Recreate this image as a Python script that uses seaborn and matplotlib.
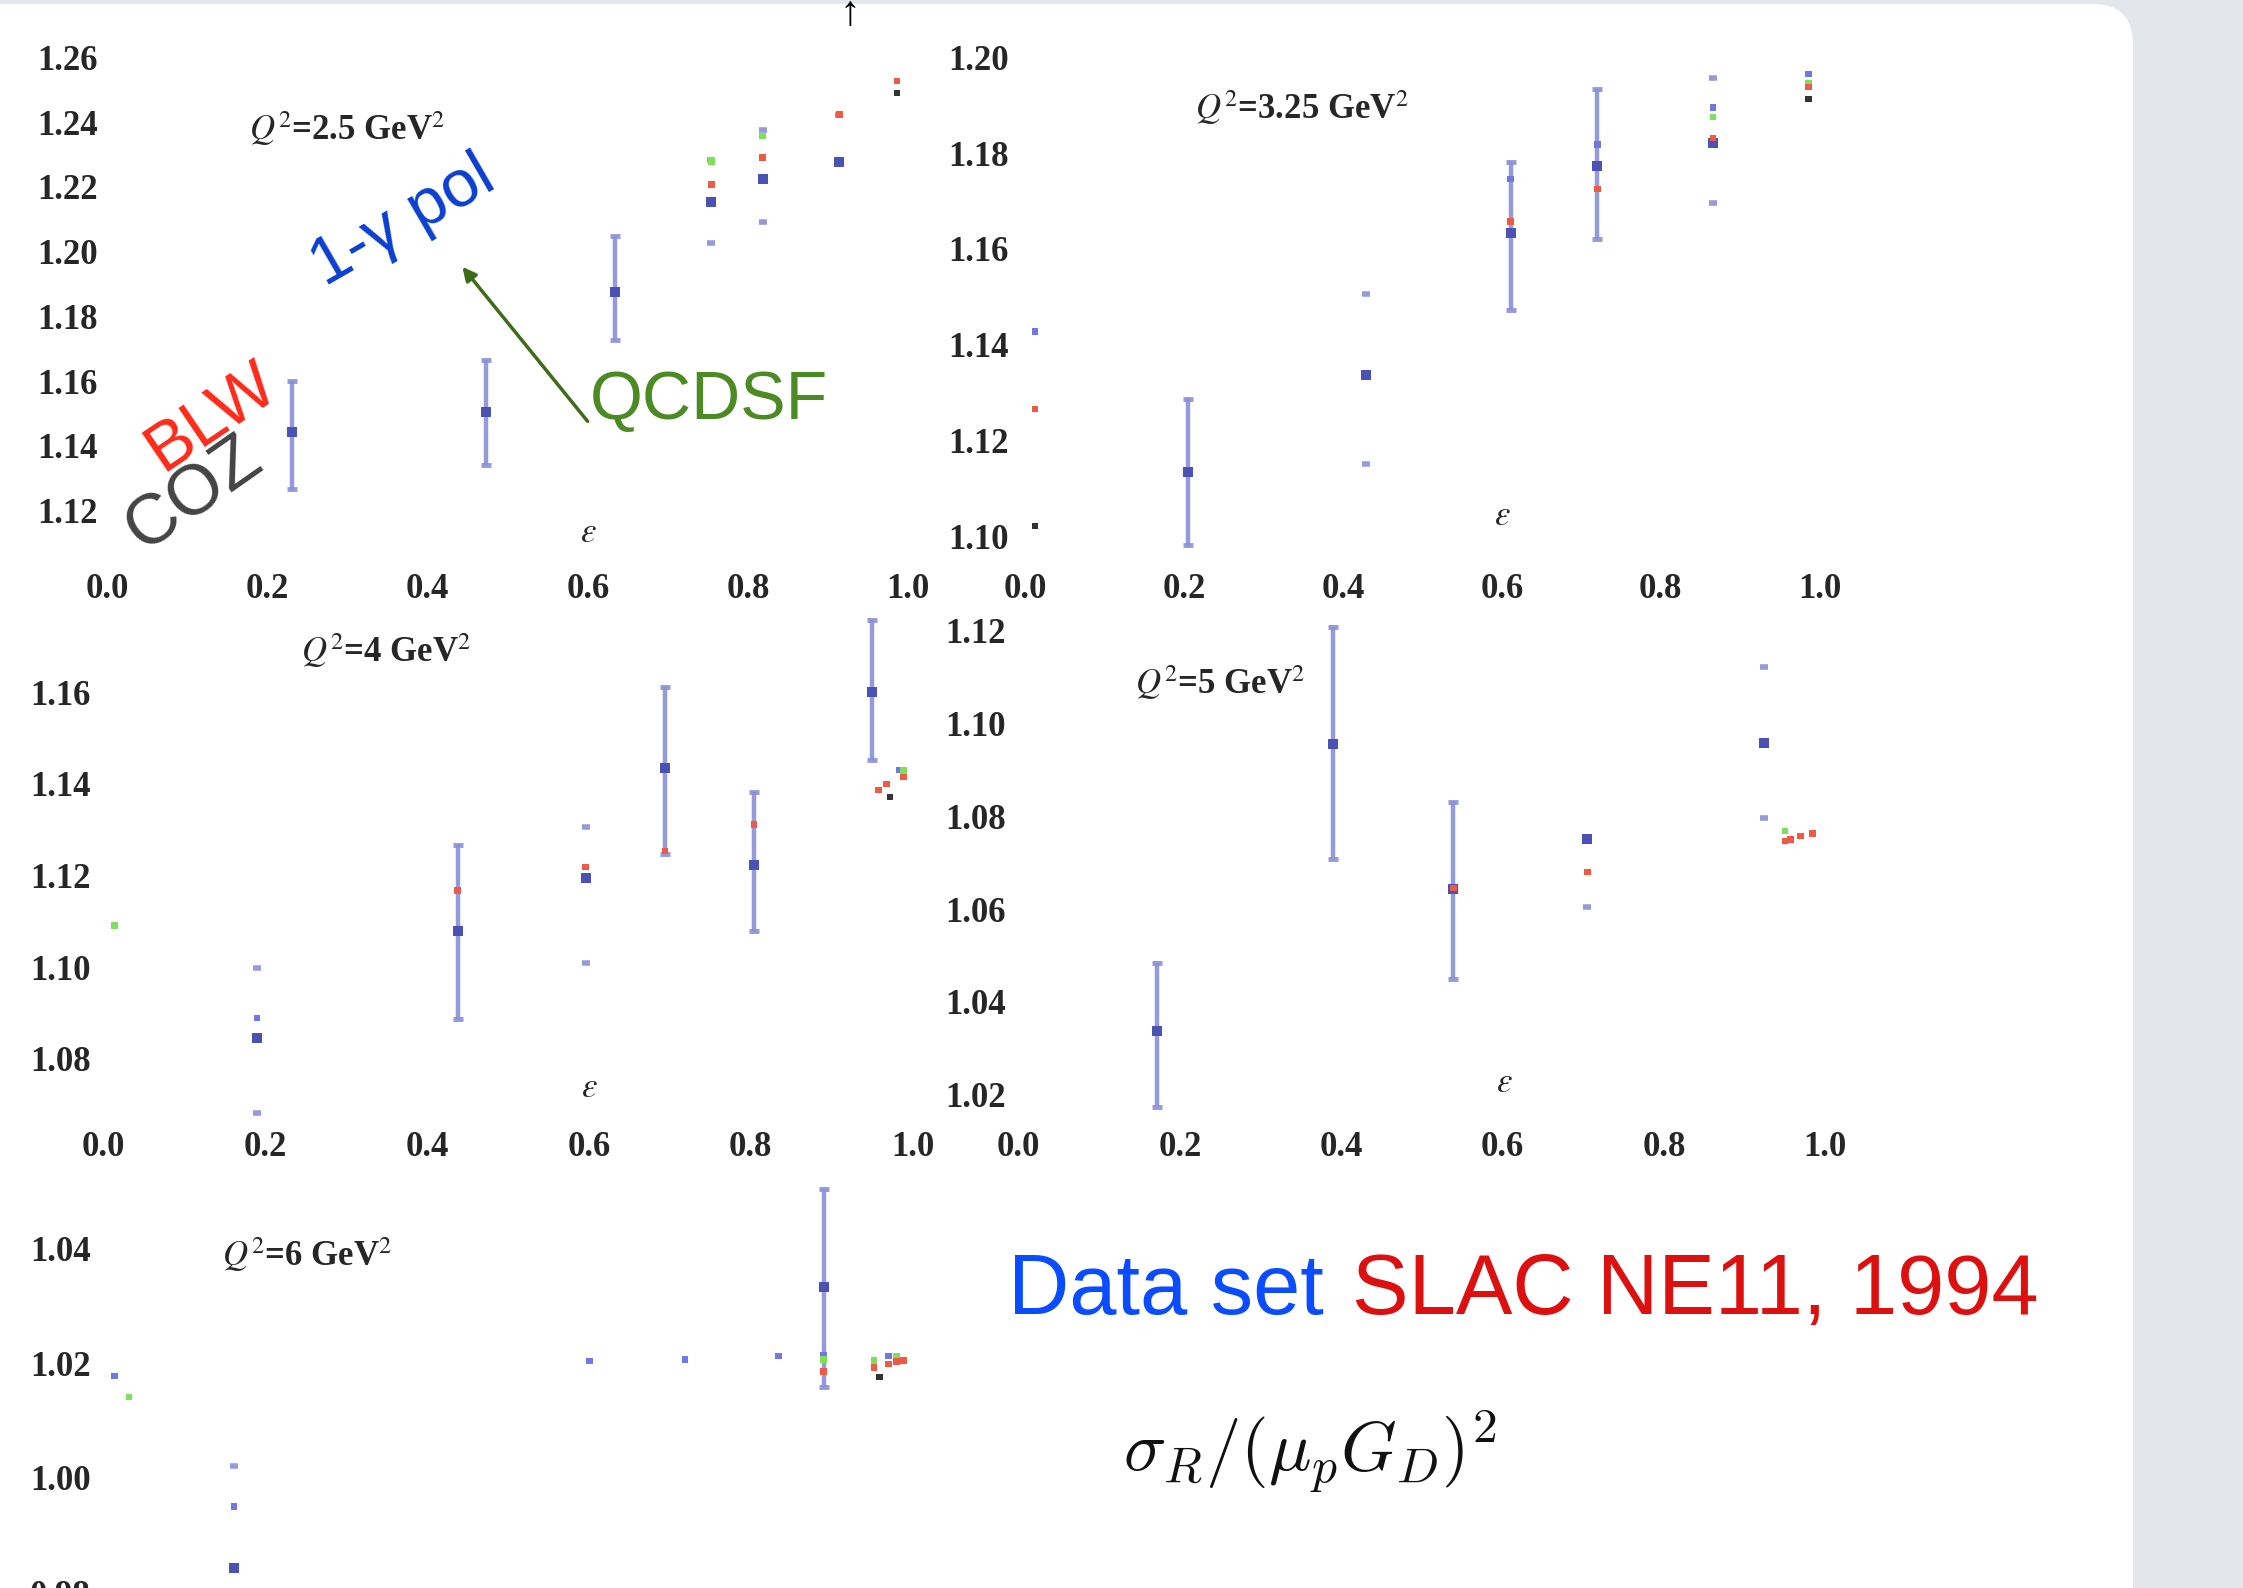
import numpy as np
import pandas as pd
import matplotlib
matplotlib.use("Agg")
import matplotlib.pyplot as plt
import seaborn as sns
from matplotlib.patches import FancyBboxPatch

# ------------------------------------------------------------------
# values: reduced cross section sigma_R/(mu_p G_D)^2 vs epsilon
# ------------------------------------------------------------------
eps_ticks = [0.0, 0.2, 0.4, 0.6, 0.8, 1.0]

# Q^2 = 2.5 GeV^2
q25_eps = [0.230, 0.473, 0.634]
q25_val = [1.1443, 1.1505, 1.1876]
q25_lo = [1.1267, 1.1341, 1.1726]
q25_hi = [1.1602, 1.1664, 1.2048]
q25_faint_eps = [0.754, 0.818, 0.914]
q25_faint_val = [1.2154, 1.2225, 1.2278]
q25_faint_lo = [1.2026, 1.2092, 1.2278]
q25_faint_hi = [1.2282, 1.2375, 1.2423]
q25_curve_eps = [0.754, 0.754, 0.818, 0.818, 0.914, 0.986, 0.986]
q25_curve_val = [1.2278, 1.2207, 1.2357, 1.2291, 1.2423, 1.2527, 1.2490]
q25_curve_kind = ["QCDSF", "BLW", "QCDSF", "BLW", "BLW", "BLW", "COZ"]
q25_yticks = [1.12, 1.14, 1.16, 1.18, 1.20, 1.22, 1.24, 1.26]

# Q^2 = 3.25 GeV^2
q325_eps = [0.205, 0.611, 0.720]
q325_val = [1.1134, 1.1633, 1.1773]
q325_lo = [1.0982, 1.1472, 1.1621]
q325_hi = [1.1287, 1.1782, 1.1934]
q325_faint_eps = [0.429, 0.866]
q325_faint_val = [1.1336, 1.1821]
q325_faint_lo = [1.1151, 1.1695]
q325_faint_hi = [1.1507, 1.1957]
q325_curve_eps = [0.012, 0.012, 0.012, 0.611, 0.611, 0.720, 0.720,
                  0.866, 0.866, 0.866, 0.986, 0.986, 0.986, 0.986]
q325_curve_val = [1.1428, 1.1266, 1.1022, 1.1657, 1.1746, 1.1725, 1.1818,
                  1.1895, 1.1875, 1.1831, 1.1965, 1.1945, 1.1938, 1.1913]
q325_curve_kind = ["pol", "BLW", "COZ", "BLW", "pol", "BLW", "pol",
                   "pol", "QCDSF", "BLW", "pol", "QCDSF", "BLW", "COZ"]
q325_yticks = [1.10, 1.12, 1.14, 1.16, 1.18, 1.20]

# Q^2 = 4 GeV^2
q4_eps = [0.438, 0.694, 0.804, 0.950]
q4_val = [1.1079, 1.1436, 1.1223, 1.1600]
q4_lo = [1.0886, 1.1248, 1.1079, 1.1452]
q4_hi = [1.1266, 1.1611, 1.1383, 1.1758]
q4_faint_eps = [0.190, 0.596]
q4_faint_val = [1.0845, 1.1194]
q4_faint_lo = [1.0681, 1.1009]
q4_faint_hi = [1.0997, 1.1306]
q4_curve_eps = [0.014, 0.190, 0.438, 0.596, 0.694, 0.804,
                0.958, 0.968, 0.989, 0.983, 0.989, 0.972]
q4_curve_val = [1.1091, 1.0889, 1.1167, 1.1219, 1.1254, 1.1312,
                1.1387, 1.1400, 1.1415, 1.1431, 1.1430, 1.1372]
q4_curve_kind = ["QCDSF", "pol", "BLW", "BLW", "BLW", "BLW",
                 "BLW", "BLW", "BLW", "pol", "QCDSF", "COZ"]
q4_yticks = [1.08, 1.10, 1.12, 1.14, 1.16]

# Q^2 = 5 GeV^2
q5_eps = [0.172, 0.390, 0.539]
q5_val = [1.0336, 1.0956, 1.0643]
q5_lo = [1.0172, 1.0708, 1.0450]
q5_hi = [1.0484, 1.1209, 1.0830]
q5_faint_eps = [0.705, 0.924]
q5_faint_val = [1.0751, 1.0959]
q5_faint_lo = [1.0605, 1.0797]
q5_faint_hi = [1.0751, 1.1123]
q5_curve_eps = [0.539, 0.705, 0.950, 0.950, 0.957, 0.969, 0.984]
q5_curve_val = [1.0645, 1.0680, 1.0768, 1.0747, 1.0750, 1.0758, 1.0763]
q5_curve_kind = ["BLW", "BLW", "QCDSF", "BLW", "BLW", "BLW", "BLW"]
q5_yticks = [1.02, 1.04, 1.06, 1.08, 1.10, 1.12]

# Q^2 = 6 GeV^2
q6_eps = [0.890]
q6_val = [1.0333]
q6_lo = [1.0159]
q6_hi = [1.0505]
q6_faint_eps = [0.162]
q6_faint_val = [0.9843]
q6_faint_lo = [0.9843]
q6_faint_hi = [1.0020]
q6_curve_eps = [0.014, 0.032, 0.162, 0.601, 0.719, 0.834, 0.890, 0.890, 0.890,
                0.952, 0.952, 0.970, 0.970, 0.980, 0.980, 0.989, 0.959]
q6_curve_val = [1.0178, 1.0141, 0.9950, 1.0204, 1.0207, 1.0213, 1.0215, 1.0207, 1.0186,
                1.0205, 1.0193, 1.0213, 1.0199, 1.0212, 1.0203, 1.0205, 1.0176]
q6_curve_kind = ["pol", "QCDSF", "pol", "pol", "pol", "pol", "pol", "QCDSF", "BLW",
                 "QCDSF", "BLW", "pol", "BLW", "QCDSF", "BLW", "BLW", "COZ"]
q6_yticks = [0.98, 1.00, 1.02, 1.04]

model_colors = {"pol": "#6f78e4", "BLW": "#ee5a45", "QCDSF": "#7ee05a", "COZ": "#333333"}
bar_color = "#8a90d6"
center_color = "#4a52b4"

# ------------------------------------------------------------------
# layout, measured on a 1568 x 1110 view of the slide
# ------------------------------------------------------------------
W, H = 1568.0, 1110.0

panels = [
    dict(name=r"$Q^2$=2.5 GeV$^2$", title_xy=(243, 90), eps_xy=(411, 372),
         x0=75, x1=635, ya=(40, 1.26), yb=(357, 1.12), rect=(75, 640, 30, 392), ypad=7,
         data=(q25_eps, q25_val, q25_lo, q25_hi),
         faint=(q25_faint_eps, q25_faint_val, q25_faint_lo, q25_faint_hi),
         curve=(q25_curve_eps, q25_curve_val, q25_curve_kind), yticks=q25_yticks, xlabels=True),
    dict(name=r"$Q^2$=3.25 GeV$^2$", title_xy=(910, 75), eps_xy=(1050, 360),
         x0=717, x1=1272, ya=(40, 1.20), yb=(375, 1.10), rect=(717, 1285, 30, 392), ypad=12,
         data=(q325_eps, q325_val, q325_lo, q325_hi),
         faint=(q325_faint_eps, q325_faint_val, q325_faint_lo, q325_faint_hi),
         curve=(q325_curve_eps, q325_curve_val, q325_curve_kind), yticks=q325_yticks, xlabels=True),
    dict(name=r"$Q^2$=4 GeV$^2$", title_xy=(270, 455), eps_xy=(412, 760),
         x0=72, x1=638, ya=(484, 1.16), yb=(740, 1.08), rect=(72, 645, 428, 782), ypad=9,
         data=(q4_eps, q4_val, q4_lo, q4_hi),
         faint=(q4_faint_eps, q4_faint_val, q4_faint_lo, q4_faint_hi),
         curve=(q4_curve_eps, q4_curve_val, q4_curve_kind), yticks=q4_yticks, xlabels=True),
    dict(name=r"$Q^2$=5 GeV$^2$", title_xy=(853, 477), eps_xy=(1052, 757),
         x0=712, x1=1276, ya=(441, 1.12), yb=(765, 1.02), rect=(712, 1285, 428, 782), ypad=9,
         data=(q5_eps, q5_val, q5_lo, q5_hi),
         faint=(q5_faint_eps, q5_faint_val, q5_faint_lo, q5_faint_hi),
         curve=(q5_curve_eps, q5_curve_val, q5_curve_kind), yticks=q5_yticks, xlabels=True),
    dict(name=r"$Q^2$=6 GeV$^2$", title_xy=(215, 877), eps_xy=None,
         x0=72, x1=638, ya=(873, 1.04), yb=(1033, 1.00), rect=(72, 645, 820, 1180), ypad=9,
         data=(q6_eps, q6_val, q6_lo, q6_hi),
         faint=(q6_faint_eps, q6_faint_val, q6_faint_lo, q6_faint_hi),
         curve=(q6_curve_eps, q6_curve_val, q6_curve_kind), yticks=q6_yticks, xlabels=False),
]

sns.set_theme(style="white")
plt.rcParams["font.family"] = ["Liberation Sans", "DejaVu Sans"]

fig = plt.figure(figsize=(22.43, 15.88), dpi=100)
fig.patch.set_facecolor("#e3e6ea")

# white slide area with a rounded top-right corner
slide = FancyBboxPatch((-1.0, -1.0), 22.33, 16.84, boxstyle="round,pad=0,rounding_size=0.4",
                       transform=fig.dpi_scale_trans, facecolor="white", edgecolor="none", zorder=0)
fig.add_artist(slide)


def fx(d):
    return d / W


def fy(d):
    return 1 - d / H


tick_font = dict(family="Liberation Serif", weight="bold", size=25)

for p in panels:
    l, r, t, b = p["rect"]
    (ya, va), (yb, vb) = p["ya"], p["yb"]
    xs = 1.0 / (p["x1"] - p["x0"])
    ys = (va - vb) / (yb - ya)
    ax = fig.add_axes([l / W, 1 - b / H, (r - l) / W, (b - t) / H])
    ax.set_facecolor("none")
    ax.set_xlim((l - p["x0"]) * xs, (r - p["x0"]) * xs)
    ax.set_ylim(va - (b - ya) * ys, va - (t - ya) * ys)

    # measured points with visible error bars
    e, v, lo, hi = [np.array(a) for a in p["data"]]
    ax.errorbar(e, v, yerr=[v - lo, hi - v], fmt="none", ecolor=bar_color, elinewidth=3.2,
                capsize=3.5, capthick=3.5, alpha=0.9, clip_on=False)
    # points where only caps survived in the scan
    fe, fv, flo, fhi = [np.array(a) for a in p["faint"]]
    ax.errorbar(fe, fv, yerr=[fv - flo, fhi - fv], fmt="none", ecolor=bar_color, elinewidth=0,
                capsize=3.0, capthick=4.0, alpha=0.9, clip_on=False)

    centers = pd.DataFrame({"eps": np.concatenate([e, fe]), "val": np.concatenate([v, fv])})
    sns.scatterplot(data=centers, x="eps", y="val", color=center_color, marker="s", s=55,
                    linewidth=0, ax=ax, clip_on=False, zorder=4)

    ce, cv, ck = p["curve"]
    curves = pd.DataFrame({"eps": ce, "val": cv, "model": ck})
    sns.scatterplot(data=curves, x="eps", y="val", hue="model", palette=model_colors,
                    marker="s", s=22, linewidth=0, legend=False, ax=ax, clip_on=False, zorder=5)

    ax.set_xlabel("")
    ax.set_ylabel("")
    for s in ax.spines.values():
        s.set_visible(False)
    if p["xlabels"]:
        ax.set_xticks(eps_ticks)
        ax.set_xticklabels([f"{x:.1f}" for x in eps_ticks], fontdict=tick_font)
    else:
        ax.set_xticks([])
    ax.set_yticks(p["yticks"])
    ax.set_yticklabels([f"{y:.2f}" for y in p["yticks"]], fontdict=tick_font)
    ax.tick_params(axis="x", length=0, pad=9)
    ax.tick_params(axis="y", length=0, pad=p["ypad"])
    ax.grid(False)

    tx, ty = p["title_xy"]
    fig.text(fx(tx), fy(ty), p["name"], ha="center", va="center", fontsize=25,
             family="Liberation Serif", weight="bold", math_fontfamily="stix")
    if p["eps_xy"] is not None:
        ex, ey = p["eps_xy"]
        fig.text(fx(ex), fy(ey), r"$\epsilon$", ha="center", va="center", fontsize=25,
                 math_fontfamily="stix", weight="bold")

# hand-written labels on the first panel
fig.text(fx(282), fy(155), "1-\u03b3 pol", color="#0a3fd0", fontsize=48, rotation=30,
         ha="center", va="center", rotation_mode="anchor")
fig.text(fx(412), fy(280), "QCDSF", color="#4c8a24", fontsize=49, ha="left", va="center")
fig.text(fx(148), fy(292), "BLW", color="#ff2a1a", fontsize=49, rotation=34,
         ha="center", va="center", rotation_mode="anchor")
fig.text(fx(136), fy(346), "COZ", color="#444444", fontsize=51, rotation=35,
         ha="center", va="center", rotation_mode="anchor")
fig.add_artist(matplotlib.patches.FancyArrowPatch(
    (fx(412), fy(296)), (fx(322), fy(185)), transform=fig.transFigure,
    arrowstyle="-|>,head_length=8,head_width=4", color="#3d6b1a", lw=2.5))

# small arrow mark cut by the top edge
fig.text(fx(594), fy(10), "\u2191", fontsize=30, ha="center", va="center", color="black",
         weight="bold")

# data set caption and quantity
fig.text(fx(705), fy(903), "Data set", color="#0a4cff", fontsize=61, ha="left", va="center")
fig.text(fx(1425), fy(903), "SLAC NE11, 1994", color="#dd1010", fontsize=61, ha="right", va="center")
fig.text(fx(916), fy(1015), r"$\sigma_R/(\mu_p G_D)^2$", fontsize=51, ha="center", va="center",
         math_fontfamily="cm", color="#111111")

fig.savefig("out.png", dpi=100, facecolor=fig.get_facecolor())
